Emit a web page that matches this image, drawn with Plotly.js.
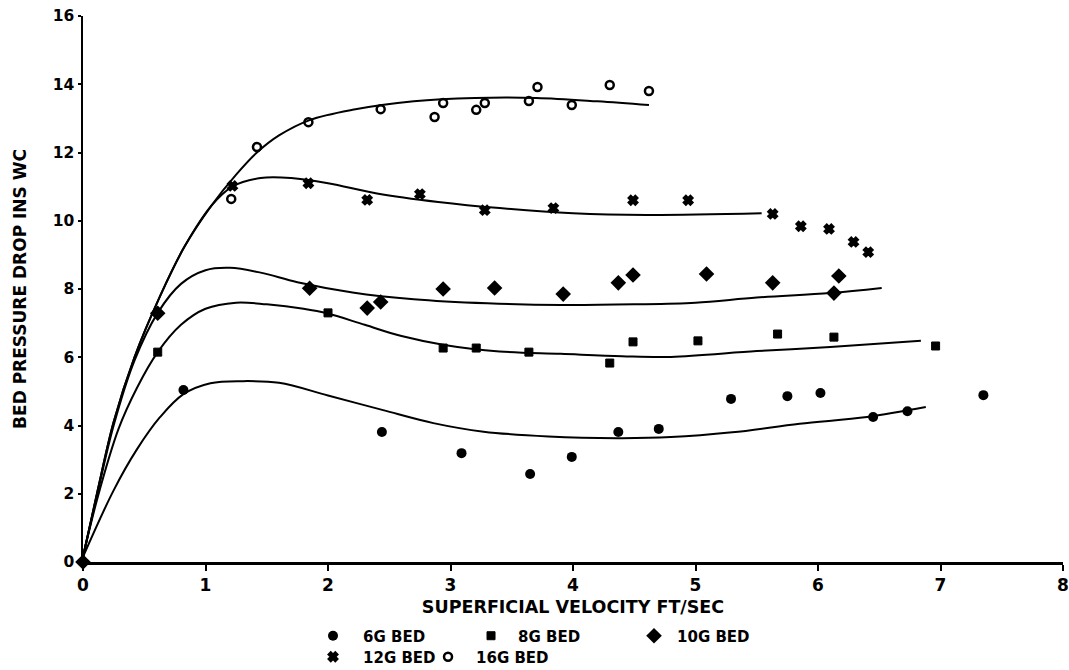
<!DOCTYPE html>
<html>
<head>
<meta charset="utf-8">
<script src="https://cdn.plot.ly/plotly-3.0.1.min.js"></script>
<style>html,body{margin:0;padding:0;background:#fff;}#chart{width:1069px;height:670px;}</style>
</head>
<body>
<div id="chart"></div>
<script>
// ---- Data ----
const xTickVals = [0, 1, 2, 3, 4, 5, 6, 7, 8];
const xTickText = ['0', '1', '2', '3', '4', '5', '6', '7', '8'];
const yTickVals = [0, 2, 4, 6, 8, 10, 12, 14, 16];
const yTickText = ['0', '2', '4', '6', '8', '10', '12', '14', '16'];

const seriesNames = ['6G BED', '8G BED', '10G BED', '12G BED', '16G BED'];

// measured points
const x6G = [0.82, 2.44, 3.09, 3.65, 3.99, 4.37, 4.70, 5.29, 5.75, 6.02, 6.45, 6.73, 7.35];
const y6G = [5.04, 3.81, 3.19, 2.58, 3.08, 3.81, 3.90, 4.78, 4.86, 4.95, 4.25, 4.42, 4.89];

const x8G = [0.61, 2.00, 2.94, 3.21, 3.64, 4.30, 4.49, 5.02, 5.67, 6.13, 6.96];
const y8G = [6.15, 7.30, 6.27, 6.27, 6.15, 5.83, 6.45, 6.48, 6.68, 6.59, 6.33];

const x10G = [0.00, 0.61, 1.85, 2.32, 2.43, 2.94, 3.36, 3.92, 4.37, 4.49, 5.09, 5.63, 6.13, 6.17];
const y10G = [0.00, 7.29, 8.02, 7.44, 7.62, 8.00, 8.03, 7.85, 8.18, 8.41, 8.44, 8.18, 7.88, 8.38];

const x12G = [1.22, 1.84, 2.32, 2.75, 3.28, 3.84, 4.49, 4.94, 5.63, 5.86, 6.09, 6.29, 6.41];
const y12G = [11.02, 11.10, 10.61, 10.78, 10.31, 10.37, 10.60, 10.60, 10.20, 9.84, 9.76, 9.38, 9.08];

const x16G = [1.21, 1.42, 1.84, 2.43, 2.87, 2.94, 3.21, 3.28, 3.64, 3.71, 3.99, 4.30, 4.62];
const y16G = [10.64, 12.16, 12.89, 13.27, 13.04, 13.45, 13.25, 13.45, 13.51, 13.92, 13.39, 13.98, 13.80];

// fitted curves
const c6Gx = [0.00, 0.25, 0.44, 0.63, 0.82, 1.04, 1.30, 1.60, 2.00, 2.45, 2.86, 3.27, 3.80, 4.36, 4.80, 5.30, 5.85, 6.40, 6.88];
const c6Gy = [0.15, 2.10, 3.30, 4.25, 4.92, 5.24, 5.30, 5.25, 4.88, 4.45, 4.07, 3.82, 3.68, 3.63, 3.66, 3.80, 4.05, 4.25, 4.54];

const c8Gx = [0.00, 0.12, 0.29, 0.44, 0.61, 0.80, 1.00, 1.25, 1.50, 1.80, 2.00, 2.30, 2.60, 2.95, 3.40, 3.90, 4.40, 4.80, 5.50, 6.10, 6.84];
const c8Gy = [0.15, 1.90, 3.90, 5.10, 6.15, 6.95, 7.42, 7.60, 7.55, 7.42, 7.28, 6.95, 6.62, 6.36, 6.17, 6.10, 6.03, 6.01, 6.18, 6.30, 6.48];

const c10Gx = [0.00, 0.12, 0.25, 0.42, 0.61, 0.80, 1.00, 1.20, 1.45, 1.75, 2.20, 2.70, 3.30, 3.90, 4.50, 5.00, 5.50, 6.10, 6.52];
const c10Gy = [0.15, 2.05, 4.00, 5.90, 7.30, 8.15, 8.55, 8.62, 8.48, 8.20, 7.90, 7.70, 7.58, 7.53, 7.55, 7.60, 7.75, 7.88, 8.03];

const c12Gx = [0.00, 0.12, 0.25, 0.42, 0.63, 0.83, 1.05, 1.22, 1.45, 1.70, 2.00, 2.40, 2.90, 3.40, 4.00, 4.60, 5.54];
const c12Gy = [0.15, 2.10, 4.10, 6.00, 7.80, 9.25, 10.45, 11.00, 11.25, 11.25, 11.10, 10.80, 10.55, 10.37, 10.22, 10.17, 10.22];

const c16Gx = [0.00, 0.12, 0.25, 0.42, 0.63, 0.83, 1.05, 1.25, 1.42, 1.60, 1.85, 2.20, 2.70, 3.20, 3.70, 4.20, 4.62];
const c16Gy = [0.15, 2.10, 4.10, 6.00, 7.80, 9.25, 10.45, 11.35, 12.00, 12.50, 12.95, 13.25, 13.50, 13.60, 13.60, 13.50, 13.39];

// ---- Chart ----
const FONT = 'DejaVu Sans, Liberation Sans, Arial, sans-serif';
const INK = '#000000';

function curve(x, y) {
  return {
    type: 'scatter', mode: 'lines', x: x, y: y, showlegend: false, hoverinfo: 'skip',
    line: {color: INK, width: 2, shape: 'spline', smoothing: 1}
  };
}
function pts(x, y, name, symbol, size, legendId, lineW) {
  return {
    type: 'scatter', mode: 'markers', x: x, y: y, name: name, legend: legendId,
    cliponaxis: false,
    marker: {symbol: symbol, size: size, color: INK, line: {color: INK, width: lineW || 0}}
  };
}

const traces = [
  curve(c6Gx, c6Gy), curve(c8Gx, c8Gy), curve(c10Gx, c10Gy), curve(c12Gx, c12Gy), curve(c16Gx, c16Gy),
  pts(x6G, y6G, seriesNames[0], 'circle', 10, 'legend'),
  pts(x8G, y8G, seriesNames[1], 'square', 8, 'legend2', 1),
  pts(x10G, y10G, seriesNames[2], 'diamond', 12, 'legend3'),
  pts(x12G, y12G, seriesNames[3], 'x', 8, 'legend4', 2),
  pts(x16G, y16G, seriesNames[4], 'circle-open', 8, 'legend5', 2.5)
];

function legendAt(x, y, itemW) {
  return {
    x: x, y: y, xanchor: 'left', yanchor: 'middle', orientation: 'h',
    font: {family: FONT, size: 15, weight: 'bold', color: INK},
    itemwidth: itemW, bgcolor: 'rgba(0,0,0,0)', borderwidth: 0,
    itemclick: false, itemdoubleclick: false
  };
}

const layout = {
  width: 1069, height: 670,
  margin: {l: 83, r: 6, t: 16, b: 108, autoexpand: false},
  paper_bgcolor: '#ffffff', plot_bgcolor: '#ffffff',
  showlegend: true,
  xaxis: {
    range: [0, 8], tickmode: 'array', tickvals: xTickVals, ticktext: xTickText,
    showgrid: false, zeroline: false, showline: true, linecolor: INK, linewidth: 2.5,
    ticks: 'outside', ticklen: 6, tickwidth: 2, tickcolor: INK,
    tickfont: {family: FONT, size: 17, weight: 'bold', color: INK},
    title: {text: 'SUPERFICIAL VELOCITY FT/SEC', font: {family: FONT, size: 17.5, weight: 'bold', color: INK}, standoff: 7},
    automargin: false, fixedrange: true
  },
  xaxis2: {
    overlaying: 'x', matches: 'x', anchor: 'y', side: 'bottom', range: [0, 8],
    tickmode: 'array', tickvals: xTickVals, showticklabels: false,
    showgrid: false, zeroline: false, showline: false,
    ticks: 'inside', ticklen: 6, tickwidth: 2, tickcolor: INK, fixedrange: true
  },
  yaxis: {
    range: [0, 16], tickmode: 'array', tickvals: yTickVals, ticktext: yTickText,
    showgrid: false, zeroline: false, showline: true, linecolor: INK, linewidth: 2.5,
    ticks: 'outside', ticklen: 3, tickwidth: 2, tickcolor: INK,
    tickfont: {family: FONT, size: 15.5, weight: 'bold', color: INK},
    title: {text: 'BED PRESSURE DROP INS WC', font: {family: FONT, size: 17, weight: 'bold', color: INK}, standoff: 22},
    automargin: false, fixedrange: true
  },
  yaxis2: {
    overlaying: 'y', matches: 'y', anchor: 'x', side: 'left', range: [0, 16],
    tickmode: 'array', tickvals: yTickVals, showticklabels: false,
    showgrid: false, zeroline: false, showline: false,
    ticks: 'inside', ticklen: 4, tickwidth: 2, tickcolor: INK, fixedrange: true
  },
  legend: legendAt(0.2245, -0.1355, 50),
  legend2: legendAt(0.3888, -0.1355, 44),
  legend3: legendAt(0.5592, -0.1355, 36),
  legend4: legendAt(0.2245, -0.174, 50),
  legend5: legendAt(0.3439, -0.174, 46)
};

Plotly.newPlot('chart', traces, layout, {displayModeBar: false, staticPlot: true});
</script>
</body>
</html>
